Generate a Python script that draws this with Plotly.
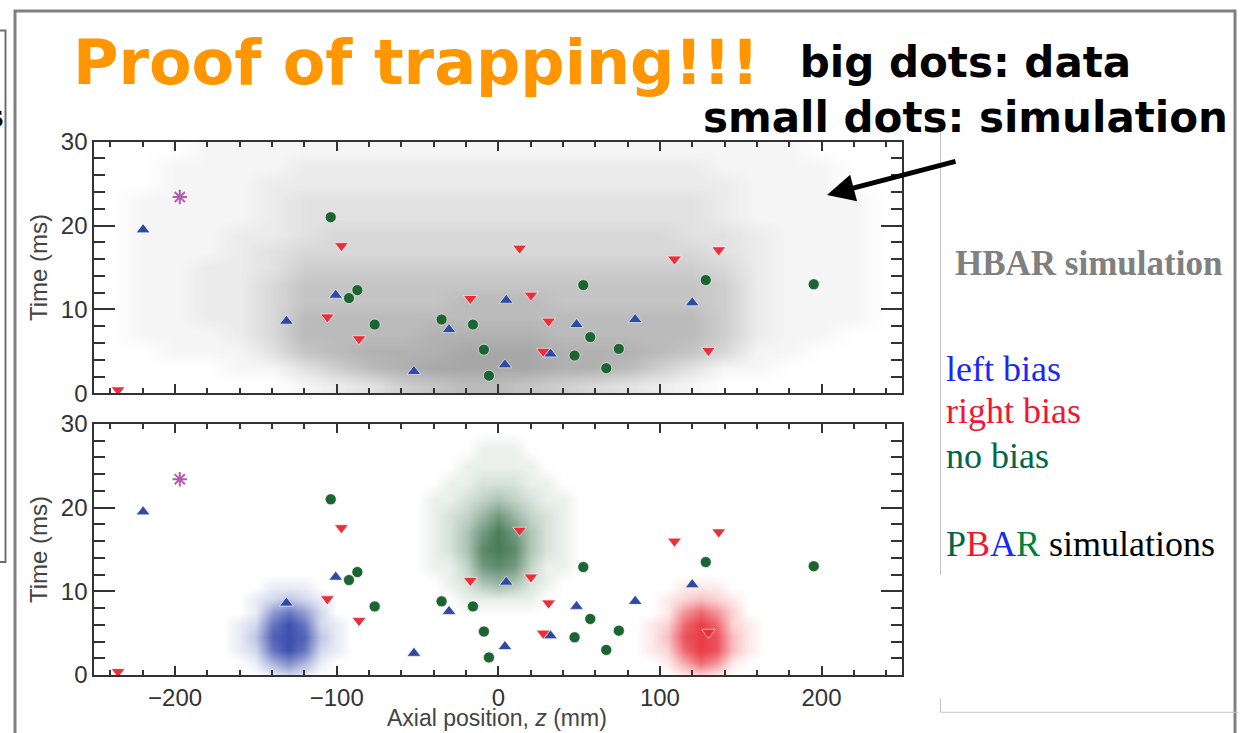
import plotly.graph_objects as go

W, H = 1248, 733

# ---------------- data: measured events (axial position z in mm, time t in ms) ----------------
left_z = [-219.8, -100.6, -131.1, -52.2, 4.9, 120.0, -30.5, 48.4, 84.7, 32.3, 4.1]
left_t = [19.5, 11.7, 8.6, 2.6, 11.1, 10.8, 7.6, 8.2, 8.8, 4.7, 3.4]
right_z = [-235.3, -97.1, -105.8, -86.2, 13.2, 136.4, 109.0, -17.3, 20.2, 31.1, 27.8, 130.0]
right_t = [0.4, 17.6, 9.1, 6.5, 17.3, 17.1, 16.0, 11.3, 11.7, 8.6, 5.0, 5.1]
none_z = [-103.7, -92.4, -87.2, -76.5, 128.4, 195.2, 52.6, -35.1, -15.7, 56.9, -8.9, 74.6, 47.2, 66.8, -5.8]
none_t = [21.0, 11.35, 12.3, 8.2, 13.5, 13.0, 12.9, 8.8, 8.2, 6.7, 5.2, 5.3, 4.5, 3.0, 2.1]
other_z = [-197.1]
other_t = [23.4]

# ---------------- data: simulation densities (0..9) ----------------
hbar_z = [-240, -220, -200, -180, -160, -140, -120, -100, -80, -60, -40, -20, 0,
          20, 40, 60, 80, 100, 120, 140, 160, 180, 200, 220, 240]
hbar_t = [1, 3, 5, 7, 9, 11, 13, 15, 17, 19, 21, 23, 25, 27, 29]
hbar_density = [
    [0, 0, 0, 0, 0, 0, 1, 2, 3, 5, 6, 7, 7, 6, 5, 4, 3, 2, 1, 0, 0, 0, 0, 0, 0],
    [0, 0, 0, 0, 1, 1, 3, 5, 7, 8, 9, 9, 9, 9, 8, 8, 7, 5, 3, 1, 1, 0, 0, 0, 0],
    [0, 0, 1, 1, 1, 3, 6, 7, 8, 8, 8, 9, 9, 9, 8, 8, 8, 7, 6, 4, 1, 1, 0, 0, 0],
    [0, 1, 1, 1, 2, 4, 7, 7, 7, 7, 8, 8, 8, 8, 7, 7, 7, 7, 7, 5, 2, 1, 1, 0, 0],
    [0, 1, 1, 2, 2, 4, 7, 7, 7, 7, 7, 7, 7, 7, 7, 7, 7, 7, 7, 5, 2, 1, 1, 1, 0],
    [0, 1, 1, 2, 2, 4, 6, 6, 6, 6, 6, 7, 7, 7, 6, 6, 6, 6, 6, 5, 2, 1, 1, 1, 0],
    [0, 1, 1, 2, 2, 4, 6, 6, 6, 6, 6, 6, 6, 6, 6, 6, 6, 6, 6, 5, 2, 1, 1, 1, 0],
    [0, 1, 1, 2, 2, 3, 5, 5, 5, 5, 5, 5, 5, 5, 5, 5, 5, 5, 5, 4, 2, 1, 1, 1, 0],
    [0, 1, 1, 1, 2, 3, 4, 4, 4, 4, 4, 4, 4, 4, 4, 4, 4, 4, 4, 3, 2, 1, 1, 1, 0],
    [0, 1, 1, 1, 2, 2, 3, 4, 4, 4, 4, 4, 4, 4, 4, 4, 4, 4, 3, 3, 2, 1, 1, 1, 0],
    [0, 1, 1, 1, 1, 2, 3, 3, 3, 3, 3, 3, 3, 3, 3, 3, 3, 3, 3, 2, 1, 1, 1, 1, 0],
    [0, 1, 1, 1, 1, 2, 3, 3, 3, 3, 3, 3, 3, 3, 3, 3, 3, 3, 3, 2, 1, 1, 1, 1, 0],
    [0, 0, 1, 1, 1, 2, 2, 2, 2, 2, 2, 2, 2, 2, 2, 2, 2, 2, 2, 2, 1, 1, 1, 0, 0],
    [0, 0, 1, 1, 1, 1, 2, 2, 2, 2, 2, 2, 2, 2, 2, 2, 2, 2, 2, 1, 1, 1, 1, 0, 0],
    [0, 0, 0, 1, 1, 1, 1, 1, 1, 1, 1, 1, 1, 1, 1, 1, 1, 1, 1, 1, 1, 1, 0, 0, 0],
]

left_sim_z = [-170, -160, -150, -140, -130, -120, -110, -100, -90]
left_sim_t = [0, 1.5, 3, 4.5, 6, 7.5, 9, 10.5, 12]
left_sim_density = [
    [0, 0, 0, 1, 2, 1, 0, 0, 0],
    [0, 0, 1, 4, 6, 4, 1, 0, 0],
    [0, 1, 2, 7, 9, 7, 2, 1, 0],
    [0, 1, 3, 8, 9, 8, 3, 1, 0],
    [0, 1, 2, 7, 9, 7, 2, 1, 0],
    [0, 0, 1, 5, 7, 5, 2, 0, 0],
    [0, 0, 1, 2, 3, 2, 1, 0, 0],
    [0, 0, 0, 1, 1, 1, 0, 0, 0],
    [0, 0, 0, 0, 0, 0, 0, 0, 0],
]

none_sim_z = [-50, -40, -30, -20, -10, 0, 10, 20, 30, 40, 50]
none_sim_t = [7, 9, 11, 13, 15, 17, 19, 21, 23, 25, 27, 29]
none_sim_density = [
    [0, 0, 0, 0, 0, 0, 0, 0, 0, 0, 0],
    [0, 0, 0, 1, 1, 1, 1, 1, 0, 0, 0],
    [0, 0, 1, 2, 4, 5, 4, 2, 1, 0, 0],
    [0, 1, 1, 3, 7, 8, 7, 3, 1, 1, 0],
    [0, 1, 2, 4, 8, 9, 8, 4, 2, 1, 0],
    [0, 1, 2, 4, 7, 9, 7, 4, 2, 1, 0],
    [0, 1, 2, 3, 5, 7, 5, 3, 2, 1, 0],
    [0, 1, 1, 2, 3, 4, 3, 2, 1, 1, 0],
    [0, 0, 1, 1, 2, 2, 2, 1, 1, 0, 0],
    [0, 0, 0, 1, 1, 1, 1, 1, 0, 0, 0],
    [0, 0, 0, 0, 1, 1, 1, 0, 0, 0, 0],
    [0, 0, 0, 0, 0, 0, 0, 0, 0, 0, 0],
]

right_sim_z = [85, 95, 105, 115, 125, 135, 145, 155, 165]
right_sim_t = [0, 1.5, 3, 4.5, 6, 7.5, 9, 10.5, 12]
right_sim_density = [
    [0, 0, 0, 1, 2, 1, 0, 0, 0],
    [0, 0, 1, 4, 7, 5, 1, 0, 0],
    [0, 1, 2, 7, 9, 8, 3, 1, 0],
    [0, 1, 3, 8, 9, 8, 3, 1, 0],
    [0, 1, 2, 7, 9, 7, 2, 1, 0],
    [0, 0, 1, 5, 7, 5, 2, 0, 0],
    [0, 0, 1, 2, 3, 2, 1, 0, 0],
    [0, 0, 0, 1, 1, 1, 0, 0, 0],
    [0, 0, 0, 0, 0, 0, 0, 0, 0],
]

x_ticks = [-200, -100, 0, 100, 200]
y_ticks = [0, 10, 20, 30]

# ---------------- colours ----------------
C_BLUE = "rgb(46,74,164)"
C_RED = "rgb(234,46,58)"
C_GREEN = "rgb(28,100,50)"
C_MAG = "rgb(176,92,176)"
AX = "#333333"


def px(x):
    return x / W


def py(y):
    return 1 - y / H


def cscale(r, g, b, a):
    return [[0, f"rgba({r},{g},{b},0)"], [1, f"rgba({r},{g},{b},{a})"]]


fig = go.Figure()

# simulation clouds
fig.add_trace(go.Heatmap(x=hbar_z, y=hbar_t, z=hbar_density, zmin=0, zmax=9, zsmooth="best",
                         colorscale=cscale(80, 80, 80, 0.5), showscale=False, hoverinfo="skip",
                         xaxis="x", yaxis="y"))
fig.add_trace(go.Heatmap(x=left_sim_z, y=left_sim_t, z=left_sim_density, zmin=0, zmax=9, zsmooth="best",
                         colorscale=cscale(50, 70, 170, 0.95), showscale=False, hoverinfo="skip",
                         xaxis="x2", yaxis="y2"))
fig.add_trace(go.Heatmap(x=none_sim_z, y=none_sim_t, z=none_sim_density, zmin=0, zmax=9, zsmooth="best",
                         colorscale=cscale(40, 100, 60, 0.85), showscale=False, hoverinfo="skip",
                         xaxis="x2", yaxis="y2"))
fig.add_trace(go.Heatmap(x=right_sim_z, y=right_sim_t, z=right_sim_density, zmin=0, zmax=9, zsmooth="best",
                         colorscale=cscale(232, 50, 60, 0.95), showscale=False, hoverinfo="skip",
                         xaxis="x2", yaxis="y2"))

# measured events, drawn in both panels
for xa, ya in (("x", "y"), ("x2", "y2")):
    fig.add_trace(go.Scatter(x=none_z, y=none_t, mode="markers", xaxis=xa, yaxis=ya,
                             marker=dict(symbol="circle", size=11, color=C_GREEN,
                                         line=dict(color="white", width=0.6)), showlegend=False))
    fig.add_trace(go.Scatter(x=left_z, y=left_t, mode="markers", xaxis=xa, yaxis=ya,
                             marker=dict(symbol="triangle-up", size=12, color=C_BLUE,
                                         line=dict(color="white", width=0.6)), showlegend=False))
    fig.add_trace(go.Scatter(x=right_z, y=right_t, mode="markers", xaxis=xa, yaxis=ya,
                             marker=dict(symbol="triangle-down", size=12, color=C_RED,
                                         line=dict(color="white", width=0.6)), showlegend=False))
    fig.add_trace(go.Scatter(x=other_z, y=other_t, mode="markers", xaxis=xa, yaxis=ya,
                             marker=dict(symbol="asterisk", size=12, color=C_MAG,
                                         line=dict(color=C_MAG, width=2)), showlegend=False))

XDOM = [px(94.3), px(902.3)]
TOPDOM = [py(393.3), py(141.7)]
BOTDOM = [py(675.0), py(424.0)]

tickfont = dict(family="Liberation Sans, Arial, sans-serif", size=24, color=AX)


def xaxis(anchor, labels):
    return dict(domain=XDOM, anchor=anchor, range=[-250, 250], tickvals=x_ticks,
                showticklabels=labels, ticks="inside", ticklen=9, tickwidth=2, tickcolor=AX,
                minor=dict(dtick=20, tick0=0, ticks="inside", ticklen=5, tickwidth=1.5, tickcolor=AX),
                showline=True, linecolor=AX, linewidth=2, mirror="allticks",
                showgrid=False, zeroline=False, tickfont=tickfont, fixedrange=True)


def yaxis(anchor, dom):
    return dict(domain=dom, anchor=anchor, range=[0, 30], tickvals=y_ticks,
                ticks="inside", ticklen=21, tickwidth=2, tickcolor=AX,
                minor=dict(dtick=2, tick0=0, ticks="inside", ticklen=11, tickwidth=1.5, tickcolor=AX),
                showline=True, linecolor=AX, linewidth=2, mirror="allticks",
                showgrid=False, zeroline=False, tickfont=tickfont, fixedrange=True)


shapes = [
    # main slide frame
    dict(type="rect", xref="paper", yref="paper", x0=px(15), x1=px(1235), y0=py(11), y1=py(760),
         line=dict(color="rgb(128,128,128)", width=3), layer="above"),
    # partial box at left edge
    dict(type="rect", xref="paper", yref="paper", x0=px(-20), x1=px(5.5), y0=py(30.5), y1=py(562),
         line=dict(color="rgb(110,110,110)", width=2), layer="above"),
    # light frame of the right text box
    dict(type="line", xref="paper", yref="paper", x0=px(940.5), x1=px(940.5), y0=py(130), y1=py(575),
         line=dict(color="rgb(195,195,195)", width=1)),
    dict(type="line", xref="paper", yref="paper", x0=px(940.5), x1=px(940.5), y0=py(699), y1=py(712),
         line=dict(color="rgb(195,195,195)", width=1)),
    dict(type="line", xref="paper", yref="paper", x0=px(940.5), x1=px(1238), y0=py(712.3), y1=py(712.3),
         line=dict(color="rgb(195,195,195)", width=1)),
]


def ann(text, x, y, size, color, family, xanchor="left", yanchor="middle", align="left", angle=0):
    return dict(text=text, x=px(x), y=py(y), xref="paper", yref="paper", showarrow=False,
                xanchor=xanchor, yanchor=yanchor, align=align, textangle=angle,
                font=dict(size=size, color=color, family=family))


SANS_B = "DejaVu Sans, sans-serif"
SERIF = "Liberation Serif, Times New Roman, serif"
AXF = "Liberation Sans, Arial, sans-serif"

annotations = [
    ann("<b>Proof of trapping!!!</b>", 71, 62, 62, "rgb(255,150,0)", SANS_B),
    ann("<b>big dots: data<br>small dots: simulation</b>", 965, 90, 42, "black", SANS_B,
        xanchor="center", align="center"),
    ann("<b>s</b>", 6, 116, 30, "black", SANS_B, xanchor="right"),
    ann("<b>HBAR simulation</b>", 953, 263, 35, "rgb(128,128,128)", SERIF),
    ann("left bias", 944, 369, 36, "rgb(25,40,245)", SERIF),
    ann("right bias", 944, 411, 36, "rgb(245,20,50)", SERIF),
    ann("no bias", 944, 456, 36, "rgb(0,102,72)", SERIF),
    ann("<span style='color:rgb(0,102,72)'>P</span><span style='color:rgb(245,20,50)'>B</span>"
        "<span style='color:rgb(25,40,245)'>A</span><span style='color:rgb(0,128,60)'>R</span> simulations",
        944, 544, 36, "black", SERIF),
    ann("Time (ms)", 38, 268, 24, "#444444", AXF, xanchor="center", angle=-90),
    ann("Time (ms)", 38, 550, 24, "#444444", AXF, xanchor="center", angle=-90),
    ann("Axial position, <i>z</i> (mm)", 497, 718, 23, "#444444", AXF, xanchor="center"),
    # arrow pointing at the simulation dots
    dict(text="", x=px(827), y=py(195), xref="paper", yref="paper", showarrow=True,
         ax=130, ay=-34, arrowhead=2, arrowsize=1.1, arrowwidth=5, arrowcolor="black", standoff=0),
]

fig.update_layout(
    width=W, height=H, margin=dict(l=0, r=0, t=0, b=0, pad=0, autoexpand=False),
    paper_bgcolor="white", plot_bgcolor="white", showlegend=False,
    xaxis=xaxis("y", False), yaxis=yaxis("x", TOPDOM),
    xaxis2=xaxis("y2", True), yaxis2=yaxis("x2", BOTDOM),
    shapes=shapes, annotations=annotations,
)

fig.write_html("out.html", config={"displayModeBar": False})
